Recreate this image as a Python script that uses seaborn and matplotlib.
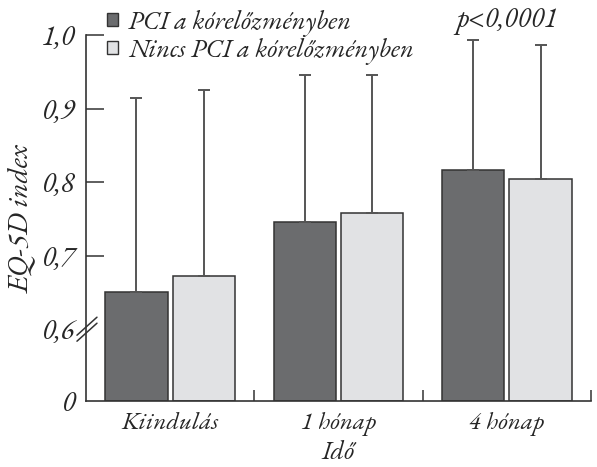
import numpy as np
import pandas as pd
import matplotlib
matplotlib.use("Agg")
import matplotlib.pyplot as plt
from matplotlib.patches import Rectangle
import seaborn as sns

# values
times = ["Kiindulás", "1 hónap", "4 hónap"]
groups = ["PCI a kórelőzményben", "Nincs PCI a kórelőzményben"]
pci_mean = [0.651, 0.746, 0.817]
nopci_mean = [0.672, 0.758, 0.805]
pci_upper = [0.915, 0.946, 0.994]
nopci_upper = [0.926, 0.946, 0.987]
ytick_vals = [0, 0.6, 0.7, 0.8, 0.9, 1.0]
ytick_labels = ["0", "0,6", "0,7", "0,8", "0,9", "1,0"]
colors = ["#6b6c6e", "#e1e2e4"]

df = pd.DataFrame({
    "Idő": times * 2,
    "csoport": [groups[0]] * 3 + [groups[1]] * 3,
    "EQ-5D": pci_mean + nopci_mean,
})
upper = {groups[0]: pci_upper, groups[1]: nopci_upper}

sns.set_style("ticks")
plt.rcParams["font.family"] = ["EB Garamond", "Liberation Serif", "DejaVu Serif"]
plt.rcParams["font.style"] = "italic"

# broken y axis: 0 -> 0.6 squeezed into a short segment
BREAK = 0.6
GAP = 0.098

def fwd(v):
    v = np.asarray(v, dtype=float)
    return np.where(v >= BREAK, v - BREAK + GAP, v * GAP / BREAK)

def inv(u):
    u = np.asarray(u, dtype=float)
    return np.where(u >= GAP, u + BREAK - GAP, u * BREAK / GAP)

fig = plt.figure(figsize=(5.97, 4.67), dpi=100)
ax = fig.add_axes([0.144, 0.141, 0.846, 0.783])

sns.barplot(data=df, x="Idő", y="EQ-5D", hue="csoport", hue_order=groups,
            palette=colors, width=0.8, gap=0.07, errorbar=None,
            edgecolor="#333333", linewidth=1.1, ax=ax, legend=False)

ax.set_yscale("function", functions=(fwd, inv))
ax.set_ylim(0, 1.0)
ax.set_xlim(-0.5, 2.5)

# upper-only error bars, placed on the bars seaborn drew
for cont, g in zip(ax.containers, groups):
    for bar, top in zip(cont, upper[g]):
        xc = bar.get_x() + bar.get_width() / 2
        h = bar.get_height()
        ax.errorbar([xc], [h], yerr=[[0], [top - h]], fmt="none",
                    ecolor="#555555", elinewidth=1.4, capsize=4.5, capthick=1.4)

ax.set_yticks(ytick_vals)
ax.set_yticklabels(ytick_labels, fontsize=20.5)
ax.tick_params(axis="y", direction="in", length=13, width=1.1, color="#333333", pad=8)
ax.yaxis.get_major_ticks()[1].tick1line.set_visible(False)
ax.yaxis.get_major_ticks()[0].tick1line.set_visible(False)

ax.set_xticks(range(len(times)))
ax.set_xticklabels(times, fontsize=18)
ax.tick_params(axis="x", which="major", length=0, pad=8)
ax.set_xticks([0.5, 1.5, 2.5], minor=True)
ax.tick_params(axis="x", which="minor", direction="in", length=8, width=1.1, color="#333333")

for s in ["top", "right"]:
    ax.spines[s].set_visible(False)
for s in ["left", "bottom"]:
    ax.spines[s].set_linewidth(1.2)
    ax.spines[s].set_color("#333333")

ax.set_xlabel("Idő", fontsize=19, labelpad=3)
ax.set_ylabel("EQ-5D index", fontsize=21, labelpad=4)

# break marks on the y axis
ybr = ax.transData.transform((0, 0.6))[1]
x0 = ax.transAxes.transform((0, 0))[0]
for dy in (-3, 3):
    p0 = ax.transAxes.inverted().transform((x0 - 9, ybr - 9 + dy))
    p1 = ax.transAxes.inverted().transform((x0 + 11, ybr + 9 + dy))
    ax.plot([p0[0], p1[0]], [p0[1], p1[1]], transform=ax.transAxes,
            color="#333333", lw=1.1, clip_on=False)

ax.text(2, 1.04, "p<0,0001", transform=ax.get_xaxis_transform(),
        ha="center", va="center", fontsize=20)

handles = [Rectangle((0, 0), 1, 1, facecolor=c, edgecolor="#333333", lw=1) for c in colors]
ax.legend(handles, groups, loc="upper left", bbox_to_anchor=(0.042, 1.07),
          frameon=False, fontsize=19, handlelength=0.4, handleheight=0.4,
          handletextpad=0.4, labelspacing=0.05, borderaxespad=0, borderpad=0)

fig.savefig("out.png", dpi=100)
